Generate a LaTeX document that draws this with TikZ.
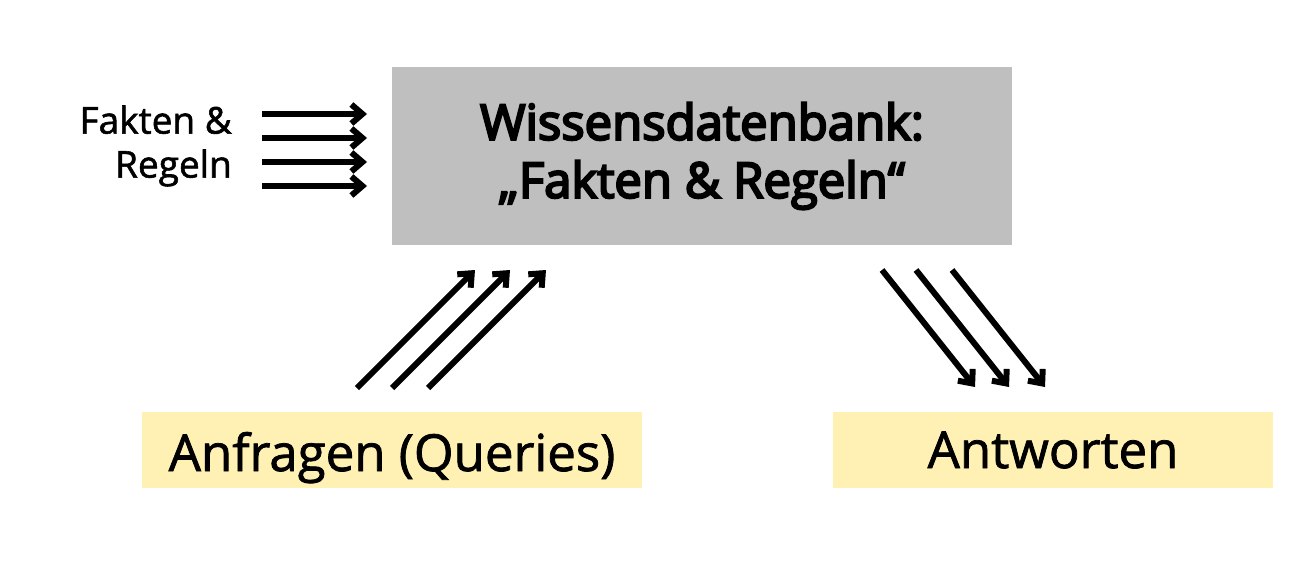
\documentclass[tikz,border=0pt]{standalone}
\usepackage{fontspec}
\setmainfont{Open Sans}[FakeBold=1.5]
\newfontfamily\medfont{Open Sans}[FakeBold=4.5]
\usetikzlibrary{arrows.meta}
\definecolor{boxgray}{HTML}{BFBFBF}
\definecolor{boxyellow}{HTML}{FFF0B4}
\tikzset{
  arr/.style={line width=6pt,-{Straight Barb[length=11pt,width=19pt]}},
  graybox/.style={fill=boxgray,inner sep=0pt,minimum width=620pt,minimum height=178pt,align=center,font=\medfont\fontsize{49}{58}\selectfont},
  yellowbox/.style={fill=boxyellow,inner sep=0pt,minimum height=76pt,font=\fontsize{51}{58}\selectfont},
  sidelabel/.style={inner sep=0pt,align=right,font=\fontsize{37}{44}\selectfont}
}
\begin{document}
\begin{tikzpicture}[x=1pt,y=-1pt]
\useasboundingbox (0,0) rectangle (1310,562);
\node[graybox] (kb) at (702,156) {Wissensdatenbank:\\„Fakten \& Regeln“};
\node[yellowbox,minimum width=500pt,text depth=0pt] (q) at (392,450) {\raisebox{-3pt}{Anfragen (Queries)}};
\node[yellowbox,minimum width=440pt] (a) at (1053,450) {\raisebox{-3pt}{Antworten}};
\node[sidelabel,anchor=east] (fr) at (232,146) {Fakten \&\\Regeln};
% left arrows
\foreach \i/\y in {1/114,2/138,3/162,4/186}{
  \coordinate (ls\i) at (262,\y);
  \coordinate (le\i) at (367,\y);
  \draw[arr] (ls\i) -- (le\i);
}
% query arrows
\foreach \i/\x in {1/357,2/392,3/428}{
  \coordinate (qs\i) at (\x,388);
  \coordinate (qe\i) at (\x+118,270);
  \draw[arr] (qs\i) -- (qe\i);
}
% answer arrows
\foreach \i/\x in {1/882,2/916,3/952}{
  \coordinate (as\i) at (\x,270);
  \coordinate (ae\i) at (\x+93,387);
  \draw[arr] (as\i) -- (ae\i);
}
\end{tikzpicture}
\end{document}
